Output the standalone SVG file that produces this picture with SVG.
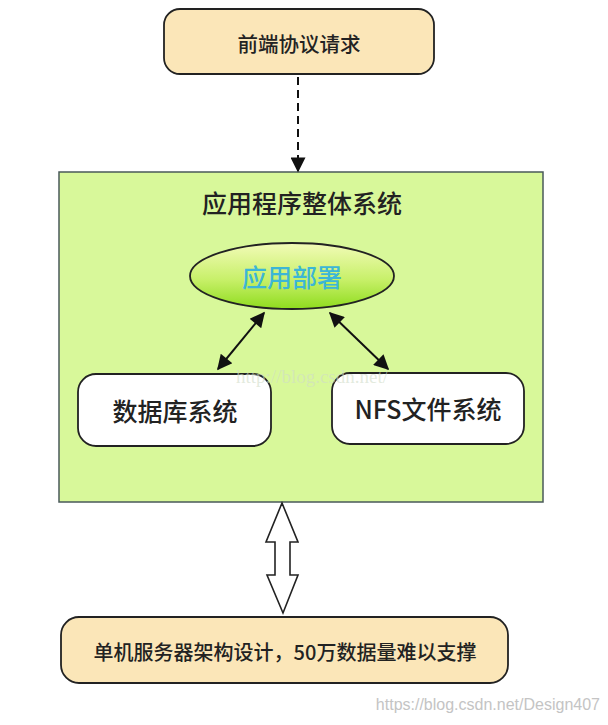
<svg xmlns="http://www.w3.org/2000/svg" width="608" height="725" viewBox="0 0 608 725">
<defs>
<style>
.t{font-family:"Noto Sans CJK SC","Liberation Sans",sans-serif;font-weight:500;fill:#222;text-anchor:middle;dominant-baseline:central}
.box{stroke:#222;stroke-width:1.8}
.ln{stroke:#111;stroke-width:2;fill:none}
</style>
<linearGradient id="eg" x1="0" y1="0" x2="0" y2="1">
<stop offset="0" stop-color="#f2fbb8"/>
<stop offset="0.55" stop-color="#c8f06a"/>
<stop offset="1" stop-color="#8fdc1e"/>
</linearGradient>
<marker id="ah" viewBox="0 0 10 10" refX="9" refY="5" markerWidth="8.5" markerHeight="7.5" orient="auto-start-reverse" markerUnits="strokeWidth">
<path d="M0,0 L10,5 L0,10 z" fill="#111"/>
</marker>
</defs>
<rect width="608" height="725" fill="#fff"/>
<g id="n-front">
<rect class="box" x="164" y="9" width="270" height="65" rx="16" fill="#fbe6b8"/>
<text class="t" x="299" y="43" font-size="20.5">前端协议请求</text>
</g>
<g id="n-app">
<rect x="59" y="172" width="484" height="330" fill="#d8f89a" stroke="#4a5a5a" stroke-width="1.5"/>
<text class="t" x="302" y="202" font-size="25">应用程序整体系统</text>
</g>
<g id="n-deploy">
<ellipse class="box" cx="292" cy="276" rx="102" ry="33" fill="url(#eg)"/>
<text class="t" x="292" y="276" font-size="25" style="fill:#3cb6d6">应用部署</text>
</g>
<g id="n-db">
<rect class="box" x="78" y="374" width="193" height="72" rx="18" fill="#fff"/>
<text class="t" x="175" y="410" font-size="25">数据库系统</text>
</g>
<g id="n-nfs">
<rect class="box" x="332" y="373" width="192" height="71" rx="18" fill="#fff"/>
<text class="t" x="428" y="408" font-size="25">NFS文件系统</text>
</g>
<g id="n-single">
<rect class="box" x="61" y="617" width="447" height="66" rx="18" fill="#fbe6b8"/>
<text class="t" x="285" y="651" font-size="20">单机服务器架构设计，50万数据量难以支撑</text>
</g>
<g id="connectors">
<line class="ln" x1="298" y1="77" x2="298" y2="171" stroke-dasharray="8,5" marker-end="url(#ah)"/>
<line class="ln" x1="264" y1="313" x2="218" y2="369" marker-start="url(#ah)" marker-end="url(#ah)"/>
<line class="ln" x1="330" y1="313" x2="388" y2="369" marker-start="url(#ah)" marker-end="url(#ah)"/>
<path d="M282,503 L298,542 L290,542 L290,575 L298,575 L283,613 L267,575 L275,575 L275,542 L266,542 Z" fill="#fff" stroke="#222" stroke-width="1.6" stroke-linejoin="miter"/>
</g>
<text x="312" y="376" font-family="Liberation Serif,serif" font-size="19" fill="#d0dcc8" fill-opacity="0.6" text-anchor="middle" dominant-baseline="central">http://blog.csdn.net/</text>
<text x="600" y="704" font-family="Liberation Sans,sans-serif" font-size="16" fill="#c4c4c4" text-anchor="end" dominant-baseline="central">https://blog.csdn.net/Design407</text>
</svg>
